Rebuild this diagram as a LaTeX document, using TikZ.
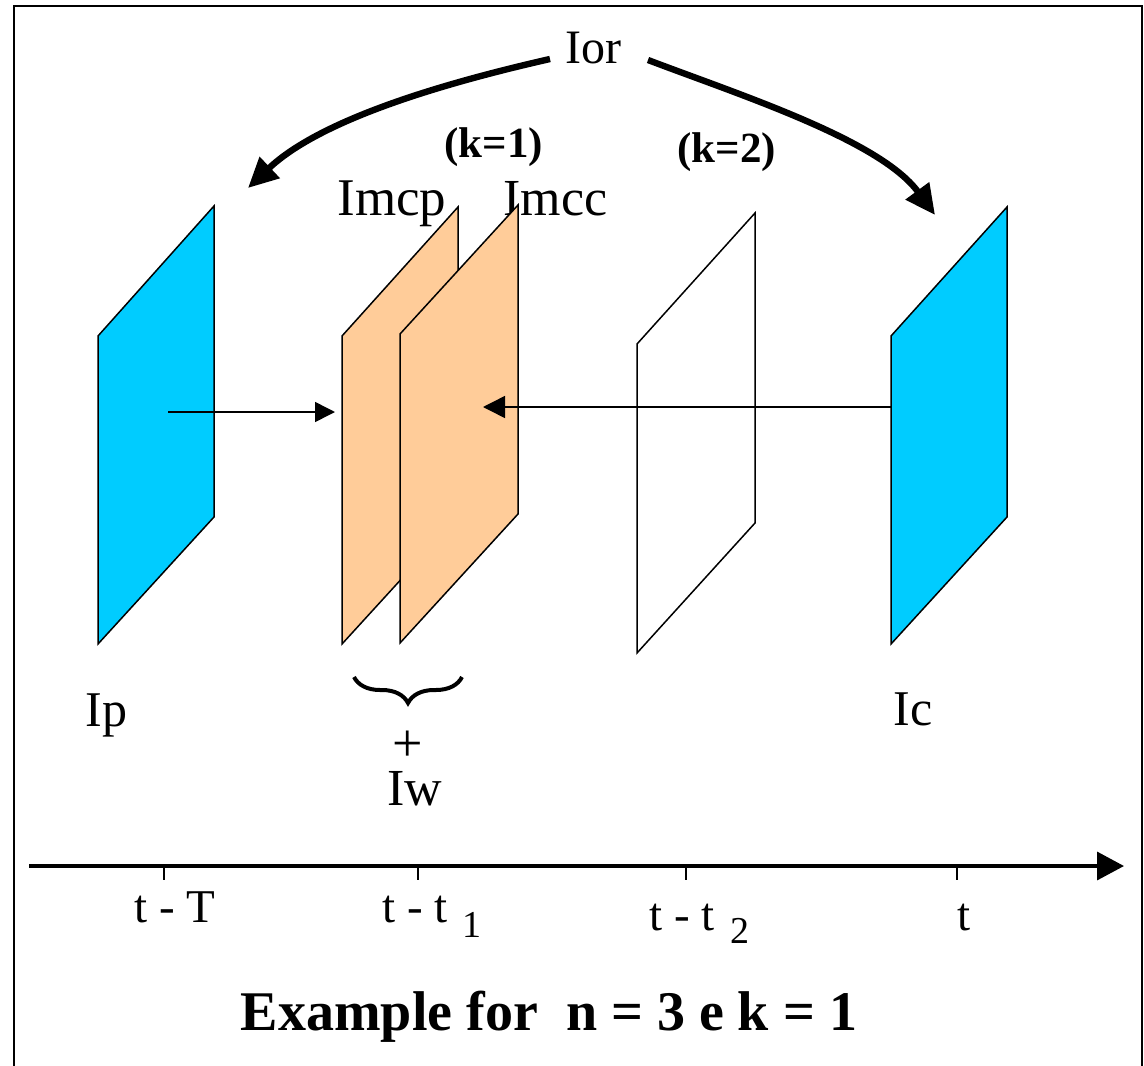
\documentclass[tikz,border=0pt]{standalone}
\usepackage{fontspec}
\setmainfont{Liberation Serif}
\usetikzlibrary{arrows.meta,decorations.pathreplacing}
\definecolor{panelblue}{RGB}{0,204,255}
\definecolor{panelorange}{RGB}{255,204,153}
\begin{document}
\begin{tikzpicture}[x=0.5pt,y=-0.5pt,
  panel/.style={draw=black, line width=0.75pt, line join=miter},
  lbl/.style={inner sep=0pt, anchor=base west, font=\fontsize{25}{30}\selectfont},
  klbl/.style={inner sep=0pt, anchor=base west, font=\bfseries\fontsize{21.5}{25}\selectfont},
  axlbl/.style={inner sep=0pt, anchor=base west, font=\fontsize{23.5}{28}\selectfont},
  sublbl/.style={inner sep=0pt, anchor=base west, font=\fontsize{19}{22}\selectfont},
  bigarrow/.style={line width=3.2pt, -{Triangle[length=15pt,width=14pt]}},
  thinarrow/.style={line width=0.75pt, -{Triangle[length=10pt,width=10pt]}},
  tick/.style={line width=0.7pt}
]
\useasboundingbox (0,0) rectangle (1144,1065);

% frame
\draw[line width=1pt] (14,1075) -- (14,6) -- (1142,6) -- (1142,1075);

% labels
\node[lbl, font=\fontsize{24}{28}\selectfont] (ior) at (565,64) {Ior};
\node[klbl] (k1) at (444,157) {(k=1)};
\node[klbl] (k2) at (677,162) {(k=2)};
\node[lbl, font=\fontsize{26.5}{30}\selectfont] (imcp) at (337,215) {Imcp};
\node[lbl, font=\fontsize{26}{30}\selectfont] (imcc) at (503,215) {Imcc};
\node[lbl] (ip) at (85,726) {Ip};
\node[lbl] (ic) at (893,725) {Ic};

% curved arrows from Ior
\coordinate (iorL) at (550,59);
\coordinate (iorR) at (648,60);
\coordinate (tipL) at (248,188);
\coordinate (tipR) at (935,215);
\draw[bigarrow] (iorL) .. controls (440,84) and (320,120) .. (tipL);
\draw[bigarrow] (iorR) .. controls (740,95) and (880,140) .. (tipR);

% left blue panel (Ip)
\filldraw[panel, fill=panelblue] (98,336) -- (214,206) -- (214,517) -- (98,644) -- cycle;
% orange panels
\filldraw[panel, fill=panelorange] (342,336) -- (458,207) -- (458,517) -- (342,644) -- cycle;
\filldraw[panel, fill=panelorange] (400,334) -- (518,205) -- (518,514) -- (400,643) -- cycle;
% white panel
\filldraw[panel, fill=white] (637,344) -- (755,213) -- (755,523) -- (637,653) -- cycle;

% arrows between panels
\coordinate (ipc) at (168,412);
\coordinate (mcpin) at (335,412);
\coordinate (icc) at (1007,407);
\coordinate (mccin) at (483,407);
\draw[thinarrow] (ipc) -- (mcpin);
\draw[line width=0.75pt, -{Triangle[length=11pt,width=11pt]}] (icc) -- (mccin);

% right blue panel (Ic)
\filldraw[panel, fill=panelblue] (891,336) -- (1007,207) -- (1007,517) -- (891,644) -- cycle;

% brace, plus and Iw
\coordinate (brR) at (462,677);
\coordinate (brL) at (354,677);
\draw[decorate, decoration={brace, amplitude=13pt}, line width=2pt] (brR) -- (brL);
\node[inner sep=0pt, anchor=base, font=\fontsize{27}{30}\selectfont] (plus) at (408,761) {+};
\node[lbl, font=\fontsize{26}{30}\selectfont] (iw) at (387,805) {Iw};

% time axis
\coordinate (axs) at (29,866);
\coordinate (axe) at (1124,866);
\draw[line width=1.75pt, -{Triangle[length=13.5pt,width=14pt]}] (axs) -- (axe);
\foreach \tx in {164,418,686,957} {
  \coordinate (tk\tx) at (\tx,866);
  \draw[tick] (tk\tx) -- ++(0,14);
}
\node[axlbl] (lT) at (134,922) {t - T};
\node[axlbl] (l1) at (382,922) {t - t};
\node[sublbl] (s1) at (462,937) {1};
\node[axlbl] (l2) at (649,930) {t - t};
\node[sublbl] (s2) at (730,943) {2};
\node[axlbl] (lt) at (957,930) {t};

% title
\node[inner sep=0pt, anchor=base, font=\bfseries\fontsize{28}{33}\selectfont] (title) at (549,1030) {Example for\ \ n = 3 e k = 1};
\end{tikzpicture}
\end{document}
